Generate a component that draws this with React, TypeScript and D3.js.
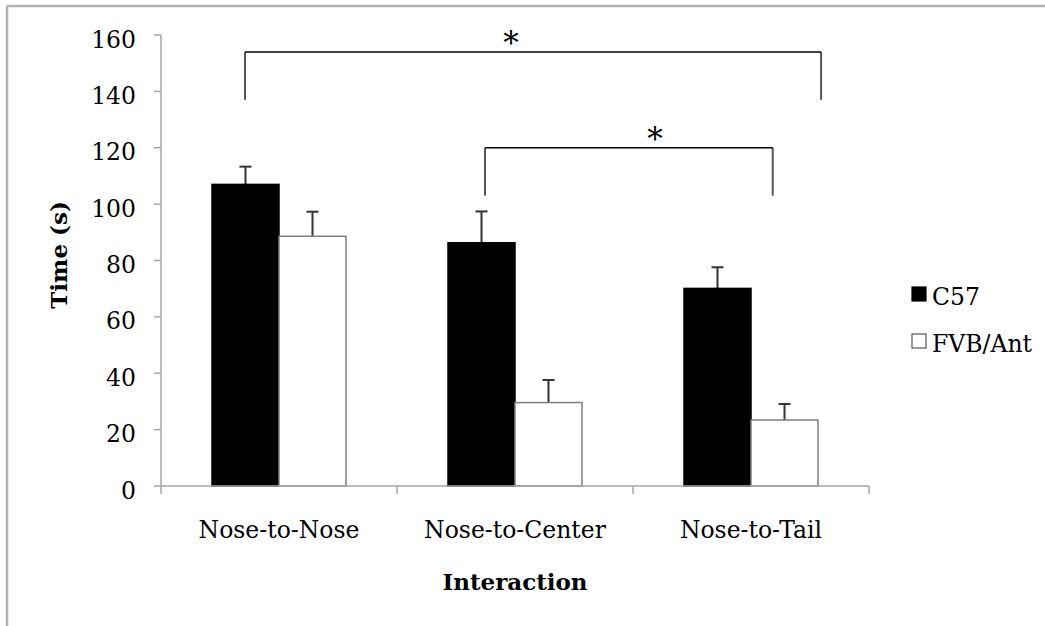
import React from "react";
import * as d3 from "d3";

const categories = ["Nose-to-Nose", "Nose-to-Center", "Nose-to-Tail"];
const seriesNames = ["C57", "FVB/Ant"];
const c57Values = [107.0, 86.3, 70.1];
const c57Errors = [6.3, 11.1, 7.5];
const fvbValues = [88.6, 29.6, 23.4];
const fvbErrors = [8.7, 8.0, 5.7];
const yTicks = [0, 20, 40, 60, 80, 100, 120, 140, 160];

// significance brackets: [category index, fraction of band] for ends, y in data units
const brackets = [
  { from: [0, 0.356], to: [2, 0.797], top: 154, legBottom: 137, star: [1, 0.483] },
  { from: [1, 0.373], to: [2, 0.592], top: 120, legBottom: 103, star: [2, 0.093] },
];

const W = 1045;
const H = 626;
const FONT = "'DejaVu Serif', serif";

export default function App() {
  const left = 161, right = 869, top = 35, bottom = 486;
  const x = d3.scaleBand<string>().domain(categories).range([left, right]).padding(0);
  const y = d3.scaleLinear().domain([0, 160]).range([bottom, top]);
  const bw = x.bandwidth();
  const barW = 67;
  const inner = d3.scaleBand<string>().domain(seriesNames).range([0, barW * 2]);
  const groupOffset = (bw - barW * 2) / 2;

  const series = [
    { name: seriesNames[0], values: c57Values, errors: c57Errors, fill: "#000", stroke: "#000" },
    { name: seriesNames[1], values: fvbValues, errors: fvbErrors, fill: "#fff", stroke: "#7f7f7f" },
  ];

  const bx = (p: number[]) => (x(categories[p[0]]) as number) + p[1] * bw;

  return (
    <svg width={W} height={H} style={{ position: "absolute", left: 0, top: 0, background: "#fff" }} fontFamily={FONT}>
      {/* frame */}
      <line x1={7} y1={6} x2={W} y2={6} stroke="#b3b3b3" strokeWidth={2.5} />
      <line x1={7} y1={6} x2={7} y2={H} stroke="#b3b3b3" strokeWidth={2.5} />

      {/* bars */}
      {series.map((s) =>
        categories.map((c, i) => {
          const x0 = (x(c) as number) + groupOffset + (inner(s.name) as number);
          const yTop = y(s.values[i]);
          const yErr = y(s.values[i] + s.errors[i]);
          const cx = x0 + barW / 2;
          return (
            <g key={s.name + c}>
              <line x1={cx} x2={cx} y1={yTop} y2={yErr} stroke="#333" strokeWidth={2} />
              <line x1={cx - 6} x2={cx + 6} y1={yErr} y2={yErr} stroke="#333" strokeWidth={2} />
              <rect x={x0} y={yTop} width={barW} height={bottom - yTop} fill={s.fill} stroke={s.stroke} strokeWidth={1.5} />
            </g>
          );
        })
      )}

      {/* y axis */}
      <line x1={left} x2={left} y1={top} y2={bottom} stroke="#a6a6a6" strokeWidth={1.5} />
      {yTicks.map((t) => (
        <g key={t}>
          <line x1={left - 7} x2={left} y1={y(t)} y2={y(t)} stroke="#a6a6a6" strokeWidth={1.5} />
          <text x={136} y={y(t) + 12.5} textAnchor="end" fontSize={23.5} fill="#000">{t}</text>
        </g>
      ))}

      {/* x axis */}
      <line x1={left} x2={right} y1={bottom} y2={bottom} stroke="#a6a6a6" strokeWidth={1.5} />
      {[...categories.map((c) => x(c) as number), right].map((px, i) => (
        <line key={i} x1={px} x2={px} y1={bottom} y2={bottom + 8} stroke="#a6a6a6" strokeWidth={1.5} />
      ))}
      {categories.map((c) => (
        <text key={c} x={(x(c) as number) + bw / 2} y={538} textAnchor="middle" fontSize={23.5} fill="#000">{c}</text>
      ))}

      {/* axis titles */}
      <text x={515} y={590} textAnchor="middle" fontSize={23} fontWeight="bold" fill="#000">Interaction</text>
      <text transform="translate(66.5,255) rotate(-90)" textAnchor="middle" fontSize={23} fontWeight="bold" fill="#000">Time (s)</text>

      {/* significance brackets */}
      {brackets.map((b, i) => {
        const x1 = bx(b.from), x2 = bx(b.to);
        const yt = y(b.top), yb = y(b.legBottom);
        return (
          <g key={i}>
            <line x1={x1} x2={x1} y1={yt} y2={yb} stroke="#555" strokeWidth={2} />
            <line x1={x2} x2={x2} y1={yt} y2={yb} stroke="#555" strokeWidth={2} />
            <line x1={x1} x2={x2} y1={yt} y2={yt} stroke="#000" strokeWidth={1.5} />
            <text x={bx(b.star)} y={yt + 2} textAnchor="middle" fontSize={31} fill="#000">*</text>
          </g>
        );
      })}

      {/* legend */}
      {series.map((s, i) => (
        <g key={s.name} transform={`translate(912,${287 + i * 47})`}>
          <rect x={0} y={0} width={14} height={14} fill={s.fill} stroke={i === 0 ? "#000" : "#555"} strokeWidth={1.2} />
          <text x={20} y={18} fontSize={23.5} fill="#000">{s.name}</text>
        </g>
      ))}
    </svg>
  );
}
